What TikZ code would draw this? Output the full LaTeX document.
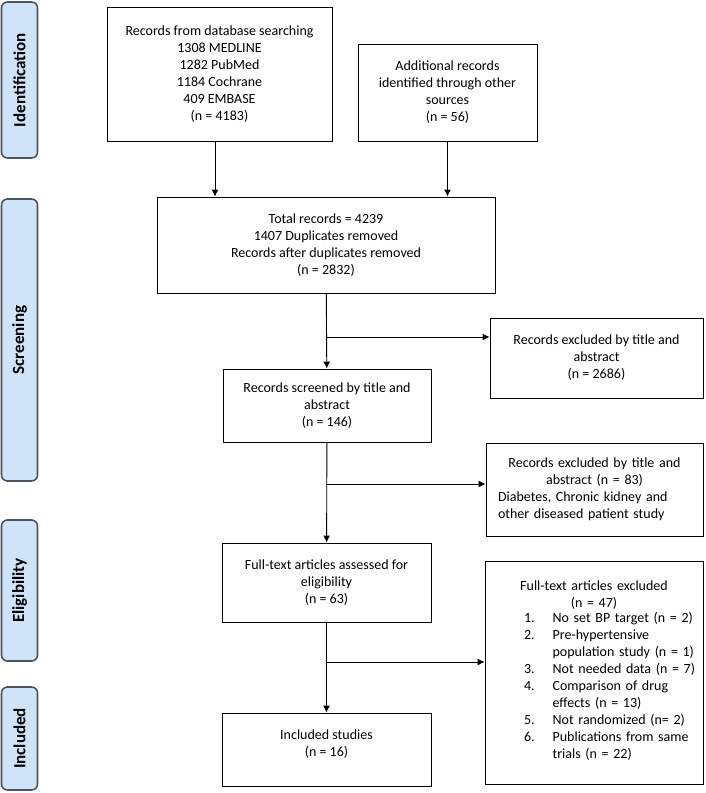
\documentclass[tikz,border=0pt]{standalone}
\usepackage{fontspec}
\setmainfont{Carlito}
\usepackage{tikz}
\usetikzlibrary{shapes,arrows,arrows.meta}
\definecolor{phasefill}{RGB}{207,227,249}
\definecolor{phaseline}{RGB}{74,84,96}
\tikzstyle{phase} = [draw=phaseline, fill=phasefill, line width=1.6pt, rounded corners=6pt, rotate=90, minimum height=36pt, inner sep=0pt, font=\fontsize{17}{20}\selectfont\bfseries]
\tikzstyle{block} = [draw, rectangle, line width=0.9pt, inner sep=0pt, align=center]
\tikzstyle{excl} = [draw, rectangle, line width=0.9pt, inner sep=0pt]
\tikzstyle{branch} = [coordinate]

\begin{document}
\begin{tikzpicture}[x=1pt, y=-1pt, >={Latex[length=7pt,width=7pt]}, line width=0.9pt, font=\fontsize{14}{17}\selectfont]
    \useasboundingbox (0,0) rectangle (705,793);
    % Define the nodes
    \node [phase, minimum width=156pt] (ident) at (19.5,80) {Identification};
    \node [phase, minimum width=282pt] (screen) at (19.5,340) {Screening};
    \node [phase, minimum width=141pt] (elig) at (19.5,590.5) {Eligibility};
    \node [phase, minimum width=103pt] (incl) at (19.5,738.5) {Included};
    \node [block, minimum width=225pt, minimum height=134pt] (db) at (219.5,74)
        {Records from database searching\\ 1308 MEDLINE\\ 1282 PubMed\\ 1184 Cochrane\\ 409 EMBASE\\ (n = 4183)};
    \node [block, minimum width=179pt, minimum height=97pt] (other) at (447.5,92.5)
        {Additional records\\ identified through other\\ sources\\ (n = 56)};
    \node [block, minimum width=338pt, minimum height=96pt] (total) at (326,245)
        {Total records = 4239\\ 1407 Duplicates removed\\ Records after duplicates removed\\ (n = 2832)};
    \node [block, minimum width=213pt, minimum height=80pt] (excl1) at (596.5,358)
        {Records excluded by title and\\ abstract\\ (n = 2686)};
    \node [block, minimum width=208pt, minimum height=73pt] (screened) at (327,405.5)
        {Records screened by title and\\ abstract\\ (n = 146)};
    \node [excl, minimum width=217pt, minimum height=93pt, text width=193pt] (excl2) at (594.5,489.5)
        {\centering Records excluded by title and\\ abstract (n = 83)\par
         \raggedright Diabetes, Chronic kidney and\\ other diseased patient study\par};
    \node [block, minimum width=209pt, minimum height=79pt] (fulltext) at (326.5,582.5)
        {Full-text articles assessed for\\ eligibility\\ (n = 63)};
    \node [excl, minimum width=218pt, minimum height=223pt, text width=200pt] (excl3) at (594,672.5)
        {\centering Full-text articles excluded\\ (n = 47)\par
         \raggedright\hspace*{30pt}%
         \begin{tabular}{@{}l@{\hspace{18pt}}l@{}}
         1. & No set BP target (n = 2)\\
         2. & Pre-hypertensive\\
            & population study (n = 1)\\
         3. & Not needed data (n = 7)\\
         4. & Comparison of drug\\
            & effects (n = 13)\\
         5. & Not randomized (n= 2)\\
         6. & Publications from same\\
            & trials (n = 22)
         \end{tabular}\par\vspace{10pt}};
    \node [block, minimum width=209pt, minimum height=73pt] (included) at (326.5,749.5)
        {Included studies\\ (n = 16)\\[-4pt]};
    \node [branch] (b1) at (326,337) {};
    \node [branch] (b2) at (326,484) {};
    \node [branch] (b3) at (326,662) {};
    % Connect the nodes
    \draw [->] ([xshift=-4.5pt]db.south) -- ([xshift=-4.5pt]db.south |- total.north);
    \draw [->] (other.south) -- (other.south |- total.north);
    \draw [->] (total) -- (screened);
    \draw [->] (b1) -- (b1 -| excl1.west);
    \draw [->] (screened) -- (fulltext);
    \draw [->] (b2) -- (b2 -| excl2.west);
    \draw [->] (fulltext) -- (included);
    \draw [->] (b3) -- (b3 -| excl3.west);
\end{tikzpicture}
\end{document}
